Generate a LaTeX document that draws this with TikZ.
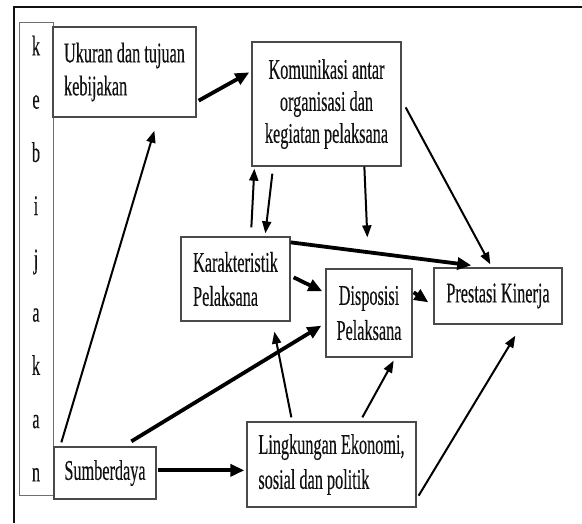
\documentclass[tikz,border=0pt]{standalone}
\usepackage{fontspec}
\setmainfont{Liberation Serif}[FakeStretch=0.57,FakeBold=0.3]
\usetikzlibrary{arrows.meta}
\definecolor{boxgray}{HTML}{4A4A4A}
\definecolor{txt}{HTML}{111111}
\definecolor{framec}{HTML}{111111}
\begin{document}
\begin{tikzpicture}[x=1pt,y=-1pt,
  box/.style={draw=boxgray, line width=1.3pt, rectangle, inner sep=0pt, text=txt},
  fs/.style={font=\fontsize{28.5}{#1}\selectfont},
  arr/.style={draw=black, line width=2pt, -{Triangle[length=12pt,width=9pt]}},
  tarr/.style={draw=black, line width=3.8pt, -{Triangle[length=14pt,width=12pt]}}
]
\useasboundingbox (0,0) rectangle (582,523);
\draw[framec, line width=2pt] (582,7) -- (14,7) -- (14,523);

\node[box, draw=boxgray!80, line width=1pt, minimum width=34, minimum height=473, align=center, fs=53.25] (B) at (36,258.5)
  {k\\e\\b\\i\\j\\a\\k\\a\\n};
\node[box, minimum width=143, minimum height=90, align=left, fs=33] (U) at (124.5,72)
  {Ukuran dan tujuan\\kebijakan};
\node[box, minimum width=149, minimum height=124, align=center, fs=32] (K) at (326.5,104)
  {Komunikasi antar\\organisasi dan\\kegiatan pelaksana};
\node[box, minimum width=109, minimum height=84, align=left, fs=34] (C) at (235.5,279)
  {Karakteristik\\Pelaksana};
\node[box, minimum width=86, minimum height=88, align=center, fs=35] (D) at (369,313)
  {Disposisi\\Pelaksana};
\node[box, minimum width=128, minimum height=56, align=center, fs=32] (P) at (498,296)
  {Prestasi Kinerja};
\node[box, minimum width=102, minimum height=52, align=center, fs=32] (S) at (105,473)
  {Sumberdaya};
\node[box, minimum width=169, minimum height=85, align=left, fs=35] (L) at (331.5,464.5)
  {Lingkungan Ekonomi,\\sosial dan politik};

% connectors
\draw[tarr] ([shift={(2,-17)}]U.south east) -- ([shift={(-2,31)}]K.north west);
\draw[arr] ([shift={(8,-4)}]S.north west) -- ([shift={(102,13)}]U.south west);
\draw[arr] ([shift={(21,7)}]K.south west) -- ([shift={(85,-3)}]C.north west);
\draw[arr] ([shift={(71,-9)}]C.north west) -- ([shift={(3,2)}]K.south west);
\draw[arr] ([shift={(113,0)}]K.south west) -- ([shift={(42,-31)}]D.north west);
\draw[arr] ([shift={(4,66)}]K.north east) -- ([shift={(57,-3)}]P.north west);
\draw[tarr] ([shift={(0,6)}]C.north east) -- ([shift={(38,-2)}]P.north west);
\draw[tarr] ([shift={(3,41)}]C.north east) -- ([shift={(-3,23)}]D.north west);
\draw[tarr] ([shift={(1,24)}]D.north east) -- ([shift={(-5,35)}]P.north west);
\draw[tarr] ([shift={(78,-5)}]S.north west) -- ([shift={(-4,-32)}]D.south west);
\draw[arr] ([shift={(45,-4)}]L.north west) -- ([shift={(94,10)}]C.south west);
\draw[arr] ([shift={(116,-4)}]L.north west) -- ([shift={(-19,3)}]D.south east);
\draw[arr] ([shift={(2,-12)}]L.south east) -- ([shift={(82,11)}]P.south west);
\draw[tarr] ([shift={(1,24)}]S.north east) -- ([shift={(-2,49)}]L.north west);
\end{tikzpicture}
\end{document}
